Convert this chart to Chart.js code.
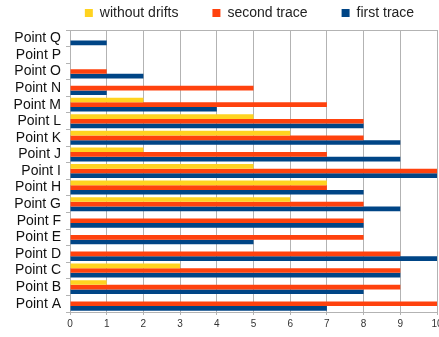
<!DOCTYPE html>
<html>
<head>
<meta charset="utf-8">
<script src="https://cdn.jsdelivr.net/npm/chart.js@4/dist/chart.umd.min.js"></script>
<style>
  html, body { margin: 0; padding: 0; background: #fff; }
  #wrap { width: 439px; height: 337px; }
</style>
</head>
<body>
<div id="wrap"><canvas id="chart"></canvas></div>
<script>
// categories listed top to bottom as they appear
const categories = ["Point Q", "Point P", "Point O", "Point N", "Point M", "Point L", "Point K", "Point J",
  "Point I", "Point H", "Point G", "Point F", "Point E", "Point D", "Point C", "Point B", "Point A"];
const withoutDrifts = [0, 0, 0, 0, 2, 5, 6, 2, 5, 7, 6, 0, 0, 0, 3, 1, 0];
const secondTrace = [0, 0, 1, 5, 7, 8, 8, 7, 10, 7, 8, 8, 8, 9, 9, 9, 10];
const firstTrace = [1, 0, 2, 1, 4, 8, 9, 9, 10, 8, 9, 8, 5, 10, 9, 8, 7];
const xTicks = [0, 1, 2, 3, 4, 5, 6, 7, 8, 9, 10];

const colors = {
  yellow: "#ffd320",
  orange: "#ff420e",
  blue: "#004586",
  grid: "#b3b3b3",
  text: "#333333",
};

const FONT = "'Liberation Sans', Arial, sans-serif";

// nudge the legend to the right so it sits over the plot like the original
const legendShift = {
  id: "legendShift",
  afterLayout(chart) {
    const dx = 24;
    chart.legend.left += dx;
    chart.legend.right += dx;
  },
};

const ctx = document.getElementById("chart").getContext("2d");

new Chart(ctx, {
  type: "bar",
  data: {
    labels: categories,
    datasets: [
      { label: "without drifts", data: withoutDrifts, backgroundColor: colors.yellow },
      { label: "second trace", data: secondTrace, backgroundColor: colors.orange },
      { label: "first trace", data: firstTrace, backgroundColor: colors.blue },
    ],
  },
  plugins: [legendShift],
  options: {
    indexAxis: "y",
    responsive: true,
    maintainAspectRatio: false,
    animation: false,
    categoryPercentage: 0.84,
    barPercentage: 1,
    layout: {
      padding: { left: 14, right: 2, top: -28, bottom: 4 },
    },
    scales: {
      x: {
        min: xTicks[0],
        max: xTicks[xTicks.length - 1],
        afterBuildTicks: (scale) => {
          scale.ticks = xTicks.map((v) => ({ value: v }));
        },
        afterFit: (scale) => {
          scale.paddingRight = 0;
          scale.paddingLeft = 0;
        },
        grid: { color: colors.grid, tickLength: 3 },
        border: { color: colors.grid },
        ticks: {
          color: colors.text,
          padding: 3,
          maxRotation: 0,
          font: { family: FONT, size: 10 },
        },
      },
      y: {
        afterFit: (scale) => {
          scale.width = 56;
        },
        grid: {
          offset: true,
          color: (c) => (c.index === 0 ? colors.grid : "rgba(0,0,0,0)"),
          tickColor: colors.grid,
          tickLength: 4,
        },
        border: { color: colors.grid },
        ticks: {
          color: "#111",
          padding: 5,
          autoSkip: false,
          font: { family: FONT, size: 14 },
        },
      },
    },
    plugins: {
      legend: {
        position: "top",
        align: "center",
        labels: {
          boxWidth: 8,
          boxHeight: 8,
          padding: 34,
          color: "#222",
          font: { family: FONT, size: 14 },
        },
      },
      tooltip: { enabled: false },
    },
  },
});
</script>
</body>
</html>
